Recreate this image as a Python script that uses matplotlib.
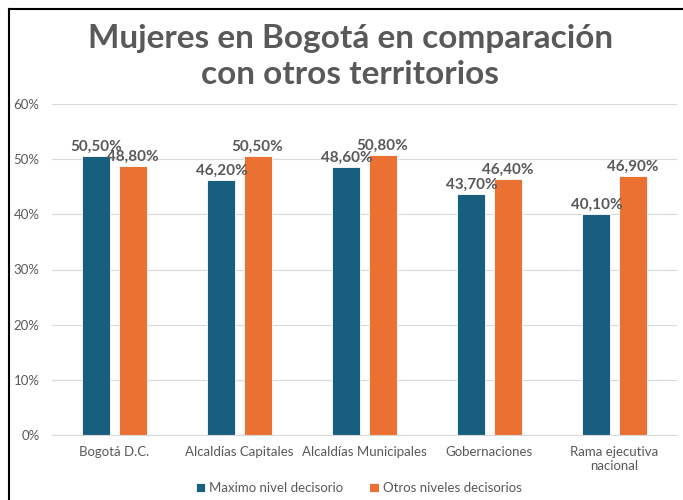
import matplotlib.pyplot as plt
import numpy as np

# Data
categorias = ["Bogotá D.C.", "Alcaldías Capitales", "Alcaldías Municipales",
              "Gobernaciones", "Rama ejecutiva\nnacional"]
maximo = [50.5, 46.2, 48.6, 43.7, 40.1]
otros = [48.8, 50.5, 50.8, 46.4, 46.9]
series = ["Maximo nivel decisorio", "Otros niveles decisorios"]

azul = "#175e7f"
naranja = "#ea7132"
gris = "#595959"

plt.rcParams['font.family'] = ['Lato', 'DejaVu Sans']

fig = plt.figure(figsize=(6.83, 5), dpi=100)
ax = fig.add_axes([52 / 683, 65 / 500, 625 / 683, 331 / 500])

x = np.arange(len(categorias))
w = 0.225
off = 0.145
b1 = ax.bar(x - off, maximo, w, color=azul, edgecolor="white", linewidth=0.6, label=series[0])
b2 = ax.bar(x + off, otros, w, color=naranja, edgecolor="white", linewidth=0.6, label=series[1])

for bars, vals in ((b1, maximo), (b2, otros)):
    for b, v in zip(bars, vals):
        ax.text(b.get_x() + b.get_width() / 2, v + 0.4, f"{v:.2f}%".replace(".", ","),
                ha="center", va="bottom", fontsize=11, fontweight="bold", color=gris)

ax.set_xlim(-0.5, len(categorias) - 0.5)
ax.set_ylim(0, 60)
ax.set_yticks(range(0, 61, 10))
ax.set_yticklabels([f"{v}%" for v in range(0, 61, 10)])
ax.set_xticks(x)
ax.set_xticklabels(categorias)
ax.tick_params(axis="both", length=0, labelsize=9.5, colors=gris)
ax.tick_params(axis="x", pad=8)
ax.tick_params(axis="y", pad=9)
ax.grid(axis="y", color="#d9d9d9", linewidth=0.8)
ax.set_axisbelow(True)
for s in ["top", "right", "left"]:
    ax.spines[s].set_visible(False)
ax.spines["bottom"].set_color("#d9d9d9")

fig.text(0.513, 0.952, "Mujeres en Bogotá en comparación\ncon otros territorios",
         ha="center", va="top", fontsize=24, fontweight="bold", color=gris, linespacing=1.3)

fig.legend(handles=[b1, b2], labels=series, loc="lower center", bbox_to_anchor=(0.525, -0.012),
           ncol=2, frameon=False, fontsize=9.5, labelcolor=gris, handlelength=0.7,
           handleheight=0.7, handletextpad=0.3, columnspacing=2.0)

# marco superior e izquierdo de la captura
fig.add_artist(plt.Line2D([9 / 683, 9 / 683], [0, 1 - 9 / 500], color="black", linewidth=1.5))
fig.add_artist(plt.Line2D([9 / 683, 1], [1 - 9 / 500, 1 - 9 / 500], color="black", linewidth=1.5))

fig.savefig("out.png", dpi=100)
